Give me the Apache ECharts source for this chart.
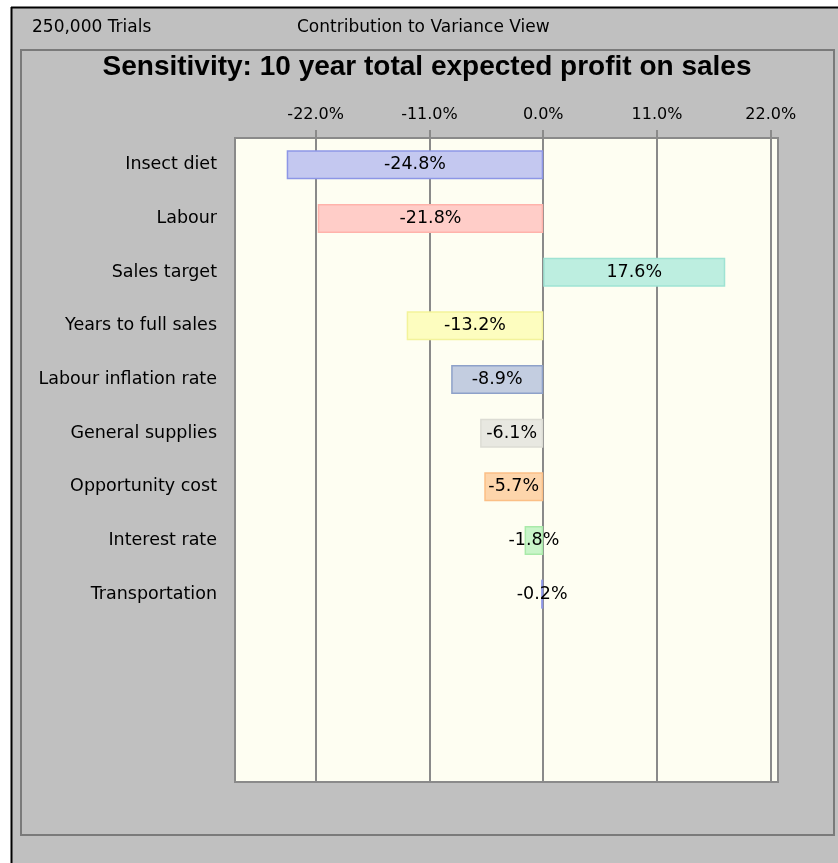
<!DOCTYPE html>
<html>
<head>
<meta charset="utf-8">
<script src="https://cdn.jsdelivr.net/npm/echarts@6/dist/echarts.min.js"></script>
<style>
  html, body { margin: 0; padding: 0; background: #ffffff; }
  #chart { width: 838px; height: 863px; }
</style>
</head>
<body>
<div id="chart"></div>
<script>
// Contribution to variance of the 10 year total expected profit on sales
const categories = [
  'Insect diet', 'Labour', 'Sales target', 'Years to full sales',
  'Labour inflation rate', 'General supplies', 'Opportunity cost',
  'Interest rate', 'Transportation'
];
const contributions = [-24.8, -21.8, 17.6, -13.2, -8.9, -6.1, -5.7, -1.8, -0.2];
const tickValues = [-22, -11, 0, 11, 22];
const fillColors = ['#c4c8f0', '#ffcdc8', '#bdeee0', '#fdfdbf', '#c3cde0', '#e8e8e1', '#fdd5ab', '#c9f5c9', '#c4c8f0'];
const edgeColors = ['#8d96e6', '#ffb3ab', '#9fe3d3', '#f3f39a', '#8ea1c9', '#dcdcd4', '#fbbf86', '#a9eaa9', '#8d96e6'];

// room for three empty rows below the last variable
const rowCount = 12;
const rowNames = categories.concat(new Array(rowCount - categories.length).fill(''));

const FONT = '"DejaVu Sans", Verdana, sans-serif';
const TITLE_FONT = '"Liberation Sans", Arial, sans-serif';
const chart = echarts.init(document.getElementById('chart'), null, { renderer: 'canvas' });

chart.setOption({
  animation: false,
  backgroundColor: '#ffffff',
  textStyle: { fontFamily: FONT },
  graphic: [
    { type: 'rect', z: -5, shape: { x: 11, y: 7, width: 827, height: 856 }, style: { fill: '#c0c0c0' } },
    { type: 'line', z: -4, shape: { x1: 11, y1: 7.5, x2: 838, y2: 7.5 }, style: { stroke: '#000', lineWidth: 2 } },
    { type: 'line', z: -4, shape: { x1: 11.5, y1: 7, x2: 11.5, y2: 863 }, style: { stroke: '#000', lineWidth: 2 } },
    { type: 'rect', z: -4, shape: { x: 21, y: 50, width: 813, height: 785 }, style: { fill: 'none', stroke: '#7a7a7a', lineWidth: 2 } },
    { type: 'text', z: 5, x: 32, y: 28, style: { text: '250,000 Trials', font: '17px ' + FONT, fill: '#000', textVerticalAlign: 'middle' } },
    { type: 'text', z: 5, x: 297, y: 28, style: { text: 'Contribution to Variance View', font: '17px ' + FONT, fill: '#000', textVerticalAlign: 'middle' } },
    { type: 'text', z: 5, x: 427, y: 67, style: { text: 'Sensitivity: 10 year total expected profit on sales', font: 'bold 28px ' + TITLE_FONT, fill: '#000', textAlign: 'center', textVerticalAlign: 'middle' } }
  ],
  grid: {
    left: 235, top: 138, width: 543, height: 644,
    show: true, backgroundColor: '#fefef2', borderColor: '#8a8a8a', borderWidth: 2
  },
  xAxis: {
    type: 'value',
    position: 'top',
    min: -29.8,
    max: 22.7,
    axisLine: { show: false },
    axisTick: { show: true, customValues: tickValues, length: 8, lineStyle: { color: '#8a8a8a', width: 2 } },
    axisLabel: {
      customValues: tickValues, color: '#000', fontSize: 16, margin: 15,
      formatter: v => v.toFixed(1) + '%'
    },
    splitLine: { show: true, lineStyle: { color: '#8a8a8a', width: 2 } }
  },
  yAxis: {
    type: 'category',
    inverse: true,
    data: rowNames,
    axisLine: { show: false },
    axisTick: { show: false },
    splitLine: { show: false },
    axisLabel: { color: '#000', fontSize: 17.5, margin: 18 }
  },
  series: [{
    type: 'bar',
    barWidth: 29,
    data: contributions.map((v, i) => ({
      value: v,
      itemStyle: { color: fillColors[i], borderColor: edgeColors[i], borderWidth: 1.5 }
    })),
    label: {
      show: true, position: 'inside', color: '#000', fontSize: 17.5,
      formatter: p => p.value.toFixed(1) + '%'
    }
  }]
});
</script>
</body>
</html>
